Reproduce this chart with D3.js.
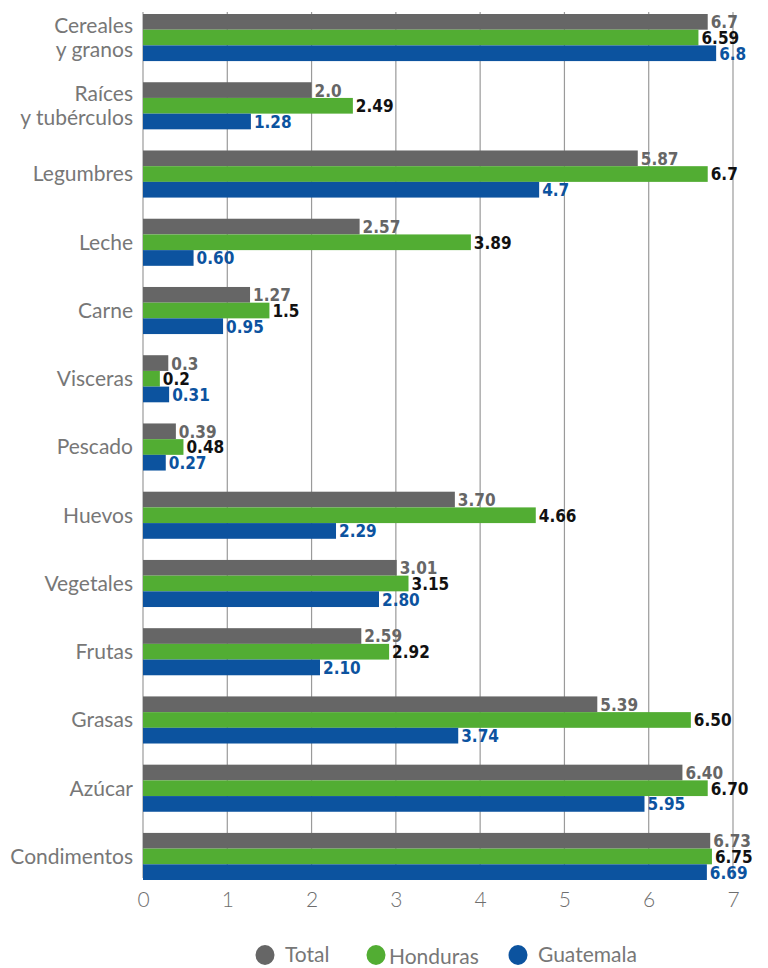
<!DOCTYPE html>
<html>
<head>
<meta charset="utf-8">
<script src="https://cdn.jsdelivr.net/npm/d3@7"></script>
<style>
  body { margin: 0; background: #fff; }
  svg { display: block; font-family: Lato, "Open Sans", sans-serif; }
</style>
</head>
<body>
<div id="wrapper"></div>
<script>
// categories (top to bottom), each can have 2 lines
var categories = [
  ["Cereales", "y granos"], ["Raíces", "y tubérculos"], ["Legumbres"], ["Leche"],
  ["Carne"], ["Visceras"], ["Pescado"], ["Huevos"], ["Vegetales"], ["Frutas"],
  ["Grasas"], ["Azúcar"], ["Condimentos"]
];
var seriesNames = ["Total", "Honduras", "Guatemala"];
var total     = [6.7, 2.0, 5.87, 2.57, 1.27, 0.3, 0.39, 3.70, 3.01, 2.59, 5.39, 6.40, 6.73];
var honduras  = [6.59, 2.49, 6.7, 3.89, 1.5, 0.2, 0.48, 4.66, 3.15, 2.92, 6.50, 6.70, 6.75];
var guatemala = [6.8, 1.28, 4.7, 0.60, 0.95, 0.31, 0.27, 2.29, 2.80, 2.10, 3.74, 5.95, 6.69];
// labels as printed in the source
var totalLbl     = ["6.7", "2.0", "5.87", "2.57", "1.27", "0.3", "0.39", "3.70", "3.01", "2.59", "5.39", "6.40", "6.73"];
var hondurasLbl  = ["6.59", "2.49", "6.7", "3.89", "1.5", "0.2", "0.48", "4.66", "3.15", "2.92", "6.50", "6.70", "6.75"];
var guatemalaLbl = ["6.8", "1.28", "4.7", "0.60", "0.95", "0.31", "0.27", "2.29", "2.80", "2.10", "3.74", "5.95", "6.69"];
var xTicks = [0, 1, 2, 3, 4, 5, 6, 7];

var barColors = ["#666666", "#52ad33", "#0c539f"];
var lblColors = ["#666666", "#111111", "#0c539f"];

var width = 768, height = 968;
var svg = d3.select("#wrapper").append("svg")
  .attr("width", width)
  .attr("height", height);

var xScale = d3.scaleLinear().domain([0, 7]).range([143, 733]);
var yScale = d3.scaleBand()
  .domain(d3.range(categories.length))
  .range([14, 880])
  .paddingInner(0.31)
  .paddingOuter(0);
var subScale = d3.scaleBand()
  .domain(d3.range(3))
  .range([0, yScale.bandwidth()]);

var gridTop = 12, gridBottom = 878;

// gridlines
svg.append("g")
  .selectAll("line")
  .data(xTicks)
  .enter()
  .append("line")
  .attr("x1", d => xScale(d))
  .attr("x2", d => xScale(d))
  .attr("y1", gridTop)
  .attr("y2", gridBottom)
  .attr("stroke", "#9a9a9a")
  .attr("stroke-width", 1.2);

// x axis tick labels
var xAxis = d3.axisBottom(xScale).tickValues(xTicks).tickFormat(d3.format("d")).tickSize(0).tickPadding(14);
svg.append("g")
  .attr("transform", `translate(0,${gridBottom})`)
  .call(xAxis)
  .call(g => g.select(".domain").remove())
  .selectAll("text")
  .attr("font-family", "Lato, sans-serif")
  .attr("font-weight", 300)
  .attr("font-size", 21)
  .attr("fill", "#6e6e6e");

// bars
var allSeries = [total, honduras, guatemala];
var allLabels = [totalLbl, hondurasLbl, guatemalaLbl];

allSeries.forEach(function(values, s) {
  var g = svg.append("g");
  g.selectAll("rect")
    .data(values)
    .enter()
    .append("rect")
    .attr("x", xScale(0))
    .attr("y", (d, i) => yScale(i) + subScale(s))
    .attr("width", d => xScale(d) - xScale(0))
    .attr("height", subScale.bandwidth())
    .attr("fill", barColors[s]);

  g.selectAll("text")
    .data(values)
    .enter()
    .append("text")
    .attr("x", d => xScale(d) + 3)
    .attr("y", (d, i) => yScale(i) + subScale(s) + subScale.bandwidth() / 2)
    .attr("dy", "0.38em")
    .attr("font-family", "'DejaVu Sans Condensed', 'DejaVu Sans', sans-serif")
    .attr("font-stretch", "condensed")
    .attr("font-weight", "bold")
    .attr("font-size", 17)
    .attr("fill", lblColors[s])
    .text((d, i) => allLabels[s][i]);
});

// category labels
var catG = svg.append("g");
categories.forEach(function(lines, i) {
  var cy = yScale(i) + yScale.bandwidth() / 2;
  var lineH = 24;
  var t = catG.append("text")
    .attr("text-anchor", "end")
    .attr("font-family", "Lato, sans-serif")
    .attr("font-size", 21)
    .attr("fill", "#777");
  lines.forEach(function(l, k) {
    t.append("tspan")
      .attr("x", 133)
      .attr("y", cy + (k - (lines.length - 1) / 2) * lineH)
      .attr("dy", "0.35em")
      .text(l);
  });
});

// legend
var legendX = [265, 376, 518];
var legend = svg.append("g");
seriesNames.forEach(function(name, s) {
  legend.append("ellipse")
    .attr("cx", legendX[s])
    .attr("cy", 955)
    .attr("rx", 9.5)
    .attr("ry", 10)
    .attr("fill", barColors[s]);
  legend.append("text")
    .attr("x", legendX[s] + (s === 1 ? 13 : 20))
    .attr("y", s === 1 ? 964 : 962)
    .attr("font-family", "Lato, sans-serif")
    .attr("font-size", 21)
    .attr("fill", "#777")
    .text(name);
});
</script>
</body>
</html>
